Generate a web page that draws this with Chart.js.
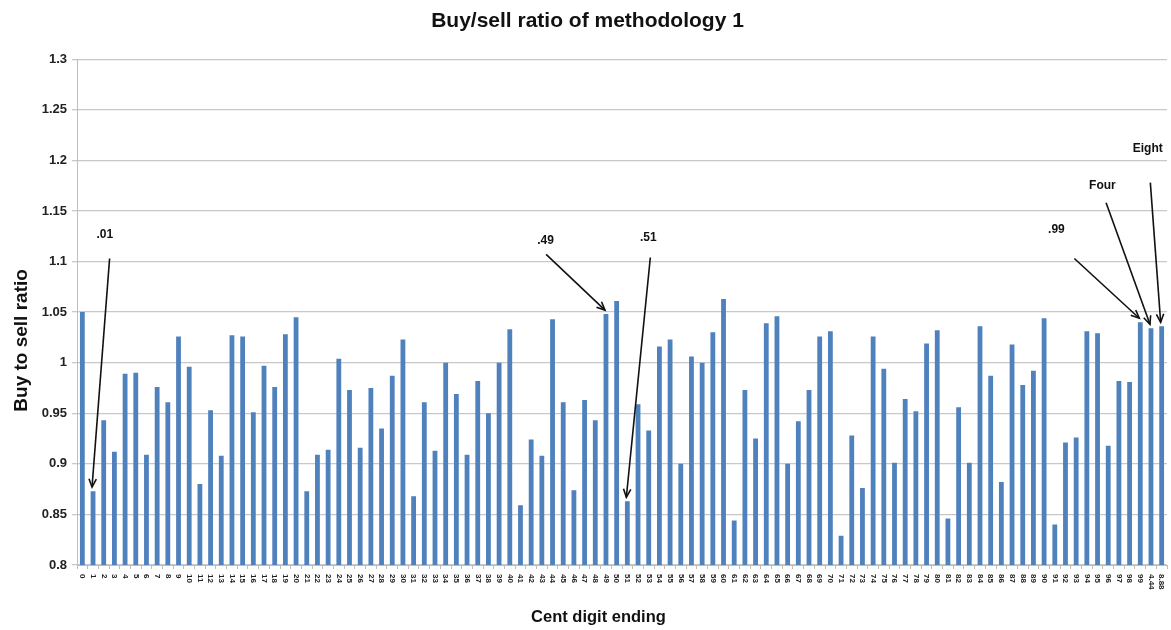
<!DOCTYPE html>
<html>
<head>
<meta charset="utf-8">
<script src="https://cdn.jsdelivr.net/npm/chart.js@4/dist/chart.umd.min.js"></script>
<style>
  html, body { margin: 0; padding: 0; background: #fff; }
  #wrap { width: 1171px; height: 630px; }
</style>
</head>
<body>
<div id="wrap"><canvas id="myChart"></canvas></div>
<script>
  // cent endings on the x axis
  const cents = [
    '0','1','2','3','4','5','6','7','8','9',
    '10','11','12','13','14','15','16','17','18','19',
    '20','21','22','23','24','25','26','27','28','29',
    '30','31','32','33','34','35','36','37','38','39',
    '40','41','42','43','44','45','46','47','48','49',
    '50','51','52','53','54','55','56','57','58','59',
    '60','61','62','63','64','65','66','67','68','69',
    '70','71','72','73','74','75','76','77','78','79',
    '80','81','82','83','84','85','86','87','88','89',
    '90','91','92','93','94','95','96','97','98','99',
    '4.44','8.88'
  ];

  // buy to sell ratio
  const ratios = [
    1.050, 0.873, 0.943, 0.912, 0.989, 0.990, 0.909, 0.976, 0.961, 1.026,
    0.996, 0.880, 0.953, 0.908, 1.027, 1.026, 0.951, 0.997, 0.976, 1.028,
    1.045, 0.873, 0.909, 0.914, 1.004, 0.973, 0.916, 0.975, 0.935, 0.987,
    1.023, 0.868, 0.961, 0.913, 1.000, 0.969, 0.909, 0.982, 0.950, 1.000,
    1.033, 0.859, 0.924, 0.908, 1.043, 0.961, 0.874, 0.963, 0.943, 1.048,
    1.061, 0.863, 0.959, 0.933, 1.016, 1.023, 0.900, 1.006, 1.000, 1.030,
    1.063, 0.844, 0.973, 0.925, 1.039, 1.046, 0.900, 0.942, 0.973, 1.026,
    1.031, 0.829, 0.928, 0.876, 1.026, 0.994, 0.901, 0.964, 0.952, 1.019,
    1.032, 0.846, 0.956, 0.901, 1.036, 0.987, 0.882, 1.018, 0.978, 0.992,
    1.044, 0.840, 0.921, 0.926, 1.031, 1.029, 0.918, 0.982, 0.981, 1.040,
    1.034, 1.036
  ];

  const yTicks = [0.8, 0.85, 0.9, 0.95, 1, 1.05, 1.1, 1.15, 1.2, 1.25, 1.3];

  const chartTitle = 'Buy/sell ratio of methodology 1';
  const xTitle = 'Cent digit ending';
  const yTitle = 'Buy to sell ratio';

  // callouts: text + the bar it points at
  const calloutText = ['.01', '.49', '.51', '.99', 'Four', 'Eight'];
  const calloutBar  = ['1', '49', '51', '99', '4.44', '8.88'];
  // where the text sits (category index, ratio) and where the arrow starts
  const calloutAt = [
    { tx: 2.1,   ty: 1.127, sx: 2.55,  sy: 1.103 },
    { tx: 43.35, ty: 1.121, sx: 43.4,  sy: 1.107 },
    { tx: 52.96, ty: 1.124, sx: 53.15, sy: 1.104 },
    { tx: 91.15, ty: 1.131, sx: 92.83, sy: 1.103 },
    { tx: 95.46, ty: 1.175, sx: 95.8,  sy: 1.158 },
    { tx: 99.7,  ty: 1.212, sx: 99.94, sy: 1.178 }
  ];

  const FONT = "'Liberation Sans', Arial, sans-serif";

  // x labels read top-to-bottom like the original, and the axis titles
  // sit a little off-centre, so these are drawn by hand
  const axisTextPlugin = {
    id: 'axisText',
    afterDraw(chart) {
      const ctx = chart.ctx;
      const x = chart.scales.x, y = chart.scales.y;
      ctx.save();
      ctx.font = 'bold 8px ' + FONT;
      ctx.fillStyle = '#222';
      ctx.textAlign = 'left';
      ctx.textBaseline = 'middle';
      cents.forEach((c, i) => {
        ctx.save();
        ctx.translate(x.getPixelForValue(i), x.top + 9);
        ctx.rotate(Math.PI / 2);
        ctx.fillText(c, 0, 0);
        ctx.restore();
      });

      ctx.fillStyle = '#111';
      ctx.textAlign = 'center';
      ctx.font = 'bold 16.5px ' + FONT;
      ctx.fillText(xTitle, x.getPixelForValue(48.3), x.bottom - 13);

      ctx.font = 'bold 19px ' + FONT;
      ctx.translate(chart.chartArea.left - 55, y.getPixelForValue(1.022));
      ctx.rotate(-Math.PI / 2);
      ctx.fillText(yTitle, 0, 0);
      ctx.restore();
    }
  };

  const calloutPlugin = {
    id: 'callouts',
    afterDatasetsDraw(chart) {
      const ctx = chart.ctx;
      const xs = chart.scales.x, ys = chart.scales.y;
      ctx.save();
      ctx.font = 'bold 12px ' + FONT;
      ctx.fillStyle = '#111';
      ctx.strokeStyle = '#111';
      ctx.lineWidth = 1.6;
      ctx.textAlign = 'center';
      ctx.textBaseline = 'middle';
      calloutText.forEach((t, k) => {
        const a = calloutAt[k];
        const idx = cents.indexOf(calloutBar[k]);
        ctx.fillText(t, xs.getPixelForValue(a.tx), ys.getPixelForValue(a.ty));
        const x0 = xs.getPixelForValue(a.sx), y0 = ys.getPixelForValue(a.sy);
        const x1 = xs.getPixelForValue(idx) - 1, y1 = ys.getPixelForValue(ratios[idx]) - 4;
        ctx.beginPath();
        ctx.moveTo(x0, y0);
        ctx.lineTo(x1, y1);
        ctx.stroke();
        const ang = Math.atan2(y1 - y0, x1 - x0);
        const L = 9, spread = 0.42;
        ctx.beginPath();
        ctx.moveTo(x1 - L * Math.cos(ang - spread), y1 - L * Math.sin(ang - spread));
        ctx.lineTo(x1, y1);
        ctx.lineTo(x1 - L * Math.cos(ang + spread), y1 - L * Math.sin(ang + spread));
        ctx.stroke();
      });
      ctx.restore();
    }
  };

  const data = {
    labels: cents,
    datasets: [{
      label: yTitle,
      data: ratios,
      backgroundColor: '#4f81bd',
      borderWidth: 0,
      barPercentage: 0.45,
      categoryPercentage: 1.0
    }]
  };

  const config = {
    type: 'bar',
    data: data,
    options: {
      responsive: true,
      maintainAspectRatio: false,
      animation: false,
      layout: { padding: { left: 8, right: 4, top: 0, bottom: 0 } },
      plugins: {
        legend: { display: false },
        tooltip: { enabled: false },
        title: {
          display: true,
          text: chartTitle,
          color: '#111',
          font: { family: FONT, size: 21, weight: 'bold' },
          padding: { top: 9, bottom: 25 }
        }
      },
      scales: {
        x: {
          afterFit(scale) { scale.height = 65; },
          grid: { display: true, drawOnChartArea: false, color: '#bdbdbd', tickLength: 4 },
          border: { color: '#bdbdbd' },
          ticks: { display: false }
        },
        y: {
          min: 0.8,
          max: 1.3,
          afterFit(scale) { scale.width = 69; },
          afterBuildTicks(scale) { scale.ticks = yTicks.map(v => ({ value: v })); },
          grid: { color: '#c8c8c8', lineWidth: 1.3, tickLength: 5 },
          border: { color: '#bdbdbd' },
          ticks: {
            color: '#222',
            padding: 5,
            font: { family: FONT, size: 13, weight: 'bold' },
            callback: v => String(Number(v.toFixed(2)))
          }
        }
      }
    },
    plugins: [axisTextPlugin, calloutPlugin]
  };

  const myChart = new Chart(document.getElementById('myChart'), config);
</script>
</body>
</html>
